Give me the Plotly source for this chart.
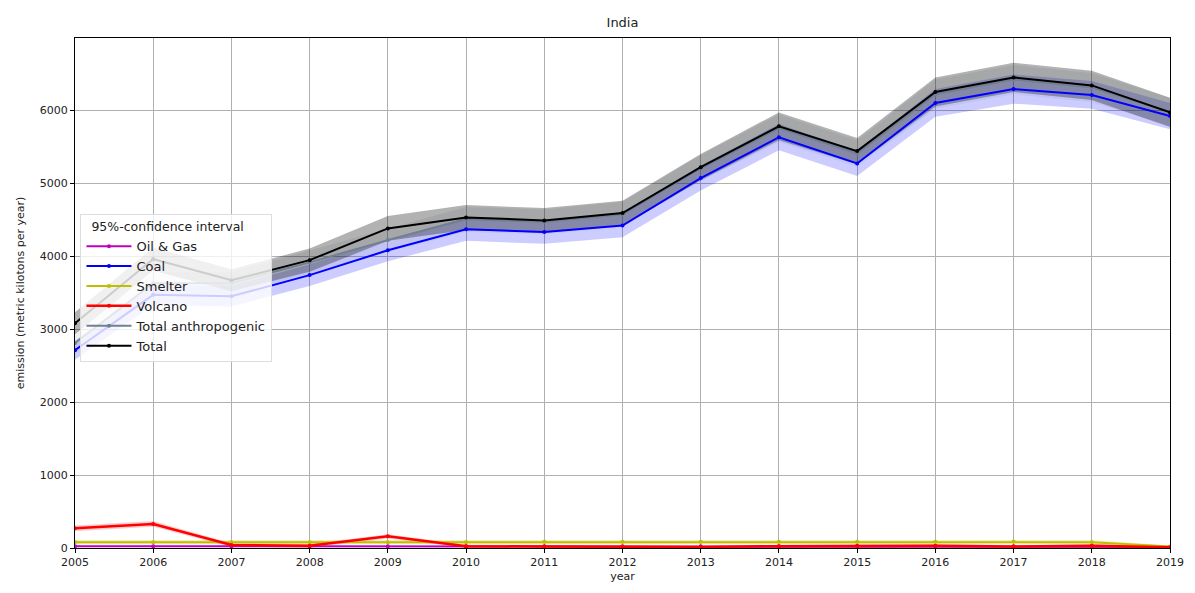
import plotly.graph_objects as go

years = list(range(2005, 2020))

oil_gas = [25, 25, 25, 25, 25, 25, 25, 25, 25, 25, 25, 25, 25, 25, 15]
oil_gas_ci = [10, 10, 10, 10, 10, 10, 10, 10, 10, 10, 10, 10, 10, 10, 8]

coal = [2710, 3470, 3450, 3740, 4080, 4370, 4330, 4420, 5070, 5630, 5270, 6100, 6290, 6210, 5920]
coal_ci = [130, 140, 140, 150, 150, 160, 160, 160, 170, 180, 170, 190, 200, 190, 180]

smelter = [80, 80, 80, 80, 80, 80, 85, 85, 85, 85, 85, 85, 90, 80, 20]
smelter_ci = [30, 30, 30, 30, 30, 30, 30, 30, 30, 30, 30, 30, 30, 30, 15]

volcano = [270, 330, 40, 30, 160, 25, 20, 15, 15, 25, 30, 30, 20, 30, 10]
volcano_ci = [40, 40, 25, 25, 30, 20, 20, 20, 20, 20, 25, 25, 20, 20, 10]

total_anthro = [2810, 3630, 3630, 3915, 4220, 4505, 4470, 4575, 5205, 5755, 5410, 6220, 6420, 6310, 5980]
total_anthro_ci = [140, 150, 150, 160, 160, 170, 170, 170, 180, 190, 180, 200, 200, 200, 190]

total = [3080, 3960, 3670, 3945, 4380, 4530, 4490, 4590, 5220, 5780, 5440, 6250, 6450, 6340, 5970]
total_ci = [150, 160, 150, 160, 170, 170, 170, 170, 180, 190, 180, 200, 200, 200, 200]

series = [
    ("Oil & Gas", oil_gas, oil_gas_ci, "#bf00bf", "rgba(191,0,191,0.2)", 2),
    ("Coal", coal, coal_ci, "#0000ff", "rgba(0,0,255,0.2)", 2),
    ("Smelter", smelter, smelter_ci, "#bfbf00", "rgba(191,191,0,0.25)", 2),
    ("Volcano", volcano, volcano_ci, "#ff0000", "rgba(255,0,0,0.2)", 2.5),
    ("Total anthropogenic", total_anthro, total_anthro_ci, "#708090", "rgba(112,128,144,0.12)", 2),
    ("Total", total, total_ci, "#000000", "rgba(0,0,0,0.3)", 2),
]

fig = go.Figure()

for name, vals, ci, col, fill, w in series:
    upper = [v + c for v, c in zip(vals, ci)]
    lower = [max(v - c, 0) for v, c in zip(vals, ci)]
    fig.add_trace(go.Scatter(x=years + years[::-1], y=upper + lower[::-1],
                             fill="toself", fillcolor=fill, line=dict(width=0),
                             mode="lines", showlegend=False, hoverinfo="skip"))

for name, vals, ci, col, fill, w in series:
    fig.add_trace(go.Scatter(x=years, y=vals, name=name, mode="lines+markers",
                             line=dict(color=col, width=w),
                             marker=dict(color=col, size=4)))

axis_common = dict(showline=True, linecolor="#000000", linewidth=1, mirror=True,
                   ticks="outside", ticklen=4, tickcolor="#000000",
                   showgrid=True, gridcolor="#b0b0b0", gridwidth=1, zeroline=False,
                   tickfont=dict(family="DejaVu Sans", size=11, color="#222222"))

fig.update_layout(
    width=1195, height=593,
    margin=dict(l=75, r=25, t=38, b=45),
    plot_bgcolor="white", paper_bgcolor="white",
    font=dict(family="DejaVu Sans", size=11, color="#222222"),
    title=dict(text="India", x=0.5, xref="paper", y=1 - 22 / 593, yref="container",
               yanchor="middle", font=dict(size=13, color="#222222")),
    xaxis=dict(range=[2005, 2019], dtick=1, tick0=2005,
               title=dict(text="year", standoff=4, font=dict(size=11)), **axis_common),
    yaxis=dict(range=[0, 6990], dtick=1000,
               title=dict(text="emission (metric kilotons per year)", standoff=12,
                          font=dict(size=11)), **axis_common),
    legend=dict(x=0.005, y=0.655, xanchor="left", yanchor="top",
                bgcolor="rgba(255,255,255,0.8)", bordercolor="#dddddd", borderwidth=1,
                title=dict(text="  95%-confidence interval", font=dict(size=12.5)),
                font=dict(size=13), tracegroupgap=0, itemwidth=45),
    showlegend=True,
)

fig.write_html("out.html")
